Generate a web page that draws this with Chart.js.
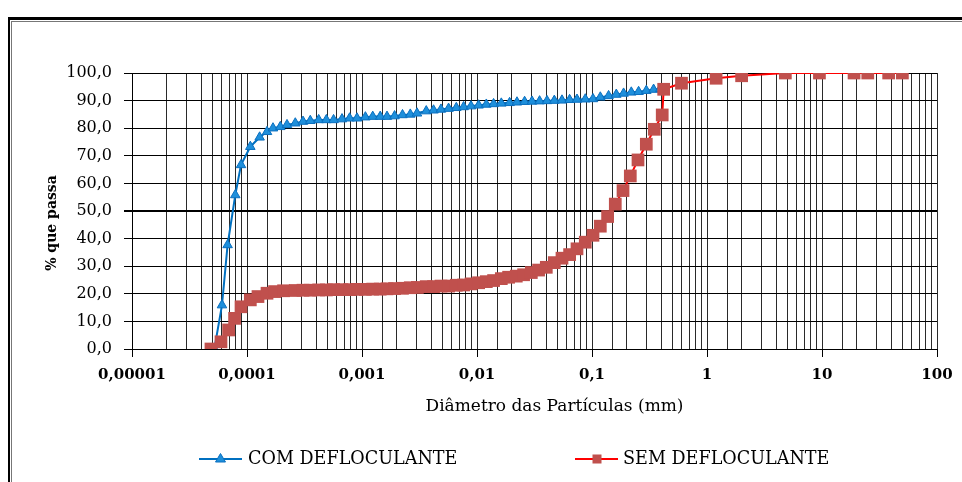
<!DOCTYPE html>
<html>
<head>
<meta charset="utf-8">
<title>Curva granulométrica</title>
<script src="https://cdn.jsdelivr.net/npm/chart.js@4.4.1/dist/chart.umd.min.js"></script>
<style>
  html, body { margin: 0; padding: 0; background: #fff; }
  canvas { display: block; }
</style>
</head>
<body>
<canvas id="granChart" width="962" height="482"></canvas>
<script>
// diâmetros em mm, % que passa
const comDiam = [5.20e-5, 6.06e-5, 6.78e-5, 7.91e-5, 8.87e-5, 1.069e-4, 1.288e-4, 1.493e-4, 1.683e-4, 1.948e-4,
  2.228e-4, 2.63e-4, 3.07e-4, 3.55e-4, 4.20e-4, 4.90e-4, 5.66e-4, 6.70e-4, 7.80e-4, 9.05e-4,
  1.07e-3, 1.24e-3, 1.44e-3, 1.65e-3, 1.92e-3, 2.25e-3, 2.63e-3, 3.01e-3, 3.62e-3, 4.19e-3,
  4.86e-3, 5.66e-3, 6.61e-3, 7.65e-3, 8.87e-3, 0.01033, 0.01205, 0.01394, 0.01627, 0.01921,
  0.02227, 0.02594, 0.03009, 0.03502, 0.04062, 0.04702, 0.05483, 0.06387, 0.07405, 0.08743,
  0.1020, 0.1181, 0.1394, 0.1627, 0.1883, 0.2196, 0.2542, 0.2967, 0.3433, 0.3926];
const comPassa = [0, 15.9, 37.7, 55.8, 66.7, 73.3, 76.7, 78.7, 80.0, 80.5,
  81.2, 81.8, 82.4, 82.7, 83.0, 83.0, 83.0, 83.3, 83.6, 83.6,
  84.0, 84.2, 84.2, 84.2, 84.4, 84.8, 85.0, 85.4, 86.2, 86.5,
  86.8, 87.1, 87.4, 87.7, 88.0, 88.3, 88.6, 88.8, 89.0, 89.2,
  89.4, 89.6, 89.7, 89.8, 89.9, 90.0, 90.1, 90.3, 90.4, 90.5,
  90.6, 91.2, 91.7, 92.2, 92.6, 93.0, 93.2, 93.6, 94.0, 94.3];

const semDiam = [4.86e-5, 5.94e-5, 6.92e-5, 7.80e-5, 8.87e-5, 1.069e-4, 1.246e-4, 1.493e-4, 1.738e-4, 2.08e-4,
  2.63e-4, 3.07e-4, 3.55e-4, 4.20e-4, 4.90e-4, 5.66e-4, 6.70e-4, 7.80e-4, 9.05e-4, 1.07e-3,
  1.24e-3, 1.44e-3, 1.65e-3, 1.92e-3, 2.25e-3, 2.63e-3, 3.03e-3, 3.62e-3, 4.19e-3, 4.86e-3,
  5.66e-3, 6.61e-3, 7.65e-3, 8.87e-3, 0.01033, 0.01205, 0.01394, 0.01627, 0.01883, 0.02196,
  0.02542, 0.02967, 0.03433, 0.04005, 0.04702, 0.05483, 0.06387, 0.07405, 0.08743, 0.1020,
  0.1181, 0.1367, 0.1594, 0.1861, 0.2153, 0.2512, 0.2967, 0.3480, 0.408, 0.42,
  0.6, 1.2, 2.0, 4.8, 9.5, 19, 25, 38, 50];
const semPassa = [0, 2.6, 6.9, 11.1, 15.3, 17.8, 19.0, 20.2, 20.8, 21.1,
  21.2, 21.3, 21.3, 21.4, 21.4, 21.5, 21.5, 21.5, 21.6, 21.6,
  21.7, 21.7, 21.8, 21.9, 22.0, 22.2, 22.3, 22.6, 22.6, 22.8,
  22.8, 23.1, 23.2, 23.6, 24.0, 24.4, 24.8, 25.5, 26.0, 26.4,
  26.9, 27.7, 28.6, 29.6, 31.3, 32.9, 34.2, 36.3, 38.7, 41.2,
  44.5, 48.0, 52.5, 57.4, 62.7, 68.5, 74.2, 79.6, 84.8, 94.1,
  96.3, 98.1, 99.0, 100, 100, 100, 100, 100, 100];

const xDecades = [0.00001, 0.0001, 0.001, 0.01, 0.1, 1, 10, 100];
const xLabels = ['0,00001', '0,0001', '0,001', '0,01', '0,1', '1', '10', '100'];
const seriesNames = ['COM DEFLOCULANTE', 'SEM DEFLOCULANTE'];
const xTitle = 'Diâmetro das Partículas (mm)';
const yTitle = '% que passa';

const toPoints = (xs, ys) => xs.map((x, i) => ({ x: x, y: ys[i] }));

function decadeIndex(v) {
  return xDecades.findIndex(d => Math.abs(v - d) / d < 1e-6);
}

Chart.defaults.font.family = '"DejaVu Serif", "Liberation Serif", serif';
Chart.defaults.color = '#000';

// moldura, títulos dos eixos e legenda
const extras = {
  id: 'extras',
  beforeDraw(chart) {
    const ctx = chart.ctx;
    ctx.save();
    ctx.fillStyle = '#000';
    ctx.fillRect(8, 17, chart.width - 8, 3);
    ctx.fillRect(8, 17, 2, chart.height - 17);
    ctx.fillStyle = '#777';
    ctx.fillRect(11, 21, chart.width - 11, 1);
    ctx.fillRect(11, 21, 1, chart.height - 21);
    ctx.restore();
  },
  afterDraw(chart) {
    const ctx = chart.ctx;
    const area = chart.chartArea;
    ctx.save();
    ctx.fillStyle = '#000';
    ctx.textBaseline = 'middle';

    ctx.font = '17px "DejaVu Serif"';
    ctx.textAlign = 'center';
    ctx.fillText(xTitle, (area.left + area.right) / 2 + 20, area.bottom + 58);

    ctx.save();
    ctx.translate(52, (area.top + area.bottom) / 2 + 12);
    ctx.rotate(-Math.PI / 2);
    ctx.font = 'bold 14px "DejaVu Serif"';
    ctx.fillText(yTitle, 0, 0);
    ctx.restore();

    // legenda
    const ly = 459;
    ctx.textAlign = 'left';
    ctx.font = '17.6px "DejaVu Serif"';

    ctx.strokeStyle = '#0070C0';
    ctx.lineWidth = 2;
    ctx.beginPath(); ctx.moveTo(199, ly); ctx.lineTo(242, ly); ctx.stroke();
    ctx.fillStyle = '#1E8FDB';
    ctx.strokeStyle = '#0A6FBF';
    ctx.lineWidth = 1;
    ctx.beginPath();
    ctx.moveTo(220.5, ly - 5.5); ctx.lineTo(225.5, ly + 3); ctx.lineTo(215.5, ly + 3);
    ctx.closePath(); ctx.fill(); ctx.stroke();
    ctx.fillStyle = '#000';
    ctx.fillText(seriesNames[0], 248, ly);

    ctx.strokeStyle = '#FF0000';
    ctx.lineWidth = 2;
    ctx.beginPath(); ctx.moveTo(575, ly); ctx.lineTo(618, ly); ctx.stroke();
    ctx.fillStyle = '#C0504D';
    ctx.fillRect(592.5, ly - 4.5, 9, 9);
    ctx.fillStyle = '#000';
    ctx.fillText(seriesNames[1], 623, ly);
    ctx.restore();
  }
};

new Chart(document.getElementById('granChart'), {
  type: 'scatter',
  data: {
    datasets: [{
      label: seriesNames[0],
      data: toPoints(comDiam, comPassa),
      showLine: true,
      borderColor: '#0070C0',
      borderWidth: 2,
      pointStyle: 'triangle',
      pointRadius: 5.5,
      pointBackgroundColor: '#1E8FDB',
      pointBorderColor: '#0A6FBF',
      pointBorderWidth: 1,
      order: 1
    }, {
      label: seriesNames[1],
      data: toPoints(semDiam, semPassa),
      showLine: true,
      borderColor: '#FF0000',
      borderWidth: 2,
      pointStyle: 'rect',
      pointRadius: 9,
      pointBackgroundColor: '#C0504D',
      pointBorderColor: '#C0504D',
      pointBorderWidth: 0,
      order: 0
    }]
  },
  options: {
    responsive: false,
    animation: false,
    devicePixelRatio: 1,
    layout: { padding: { top: 73, right: 25, bottom: 93, left: 0 } },
    plugins: {
      legend: { display: false },
      tooltip: { enabled: false }
    },
    scales: {
      x: {
        type: 'logarithmic',
        min: 0.00001,
        max: 100,
        afterFit: s => { s.height = 40; },
        border: { color: '#000', width: 1 },
        grid: {
          color: '#2a2a2a',
          lineWidth: 1,
          tickLength: 8,
          tickColor: c => decadeIndex(c.tick.value) >= 0 ? '#000' : 'rgba(0,0,0,0)'
        },
        ticks: {
          autoSkip: false,
          maxRotation: 0,
          minRotation: 0,
          padding: 9,
          font: { size: 15, weight: 'bold' },
          callback: v => {
            const i = decadeIndex(v);
            return i >= 0 ? xLabels[i] : '';
          }
        }
      },
      y: {
        min: 0,
        max: 100,
        afterFit: s => { s.width = 132; },
        border: { color: '#000', width: 1 },
        grid: {
          color: '#000',
          lineWidth: c => c.tick && c.tick.value === 50 ? 2 : 1,
          tickLength: 8,
          tickColor: '#000'
        },
        ticks: {
          stepSize: 10,
          padding: 12,
          font: { size: 16 },
          callback: v => v.toFixed(1).replace('.', ',')
        }
      }
    }
  },
  plugins: [extras]
});
</script>
</body>
</html>
